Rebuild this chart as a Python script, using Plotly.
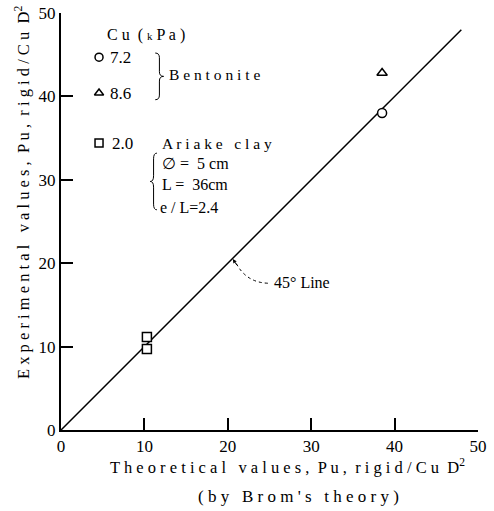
import plotly.graph_objects as go

# ---- data ----
bentonite_72_x = [38.5]
bentonite_72_y = [38.0]
bentonite_86_x = [38.5]
bentonite_86_y = [42.8]
ariake_x = [10.3, 10.3]
ariake_y = [11.15, 9.7]
line45 = [0, 48]
tick_vals = [0, 10, 20, 30, 40, 50]

TXT = "Liberation Serif"
NUM = "Liberation Serif"

fig = go.Figure()

mk = dict(color="white", size=9, line=dict(color="black", width=1.5))
fig.add_trace(go.Scatter(x=line45, y=line45, mode="lines",
                         line=dict(color="black", width=1.5), showlegend=False, hoverinfo="skip"))
fig.add_trace(go.Scatter(x=bentonite_72_x, y=bentonite_72_y, mode="markers",
                         marker=dict(symbol="circle", **mk), showlegend=False))
fig.add_trace(go.Scatter(x=bentonite_86_x, y=bentonite_86_y, mode="markers",
                         marker=dict(symbol="triangle-up", **mk), showlegend=False))
fig.add_trace(go.Scatter(x=ariake_x, y=ariake_y, mode="markers",
                         marker=dict(symbol="square", **mk), showlegend=False))

# legend symbols (in-plot key)
fig.add_trace(go.Scatter(x=[4.56, 4.56, 4.56], y=[44.7, 40.4, 34.4], mode="markers",
                         marker=dict(symbol=["circle", "triangle-up", "square"],
                                     color="white", size=8, line=dict(color="black", width=1.5)),
                         showlegend=False, hoverinfo="skip"))

def txt(x, y, s, size=16, font=TXT, xanchor="left", **kw):
    fig.add_annotation(x=x, y=y, xref="x", yref="y", text=s, showarrow=False,
                       xanchor=xanchor, yanchor="middle",
                       font=dict(family=font, size=size, color="black"), **kw)

txt(5.3, 47.4, "C u  ( <span style='font-size:11px'>k</span> P a )")
txt(5.6, 44.7, "7.2", size=17, font=NUM)
txt(5.6, 40.4, "8.6", size=17, font=NUM)
txt(12.7, 42.6, "B e n t o n i t e", size=15.5)
txt(5.9, 34.4, "2.0", size=17, font=NUM)
txt(11.9, 34.4, "A r i a k e   c l a y", size=15.5)
txt(11.9, 32.0, "∅ =  5 cm", size=16, font=NUM)
txt(11.9, 29.4, "L =  36cm", size=16, font=NUM)
txt(11.6, 26.7, "e / L=2.4", size=16, font=NUM)
txt(25.3, 17.7, "45° Line", size=16, font=NUM)

# braces
def brace(x0, x1, y0, y1, right=True):
    ym = (y0 + y1) / 2
    xa, xb = (x0, x1) if right else (x1, x0)
    xm = (xa + xb) / 2
    p = (f"M {xa},{y1} Q {xm},{y1} {xm},{y1 - (y1-ym)*0.2} L {xm},{ym + (y1-ym)*0.2} "
         f"Q {xm},{ym} {xb},{ym} Q {xm},{ym} {xm},{ym - (y1-ym)*0.2} "
         f"L {xm},{y0 + (y1-ym)*0.2} Q {xm},{y0} {xa},{y0}")
    fig.add_shape(type="path", path=p, xref="x", yref="y",
                  line=dict(color="black", width=1))

brace(11.3, 12.3, 39.6, 45.2, right=True)
brace(10.7, 11.5, 26.4, 33.2, right=False)

# dotted arrow to 45 deg line
fig.add_shape(type="path", path="M 24.8,17.6 Q 22.1,17.7 20.9,20.2", xref="x", yref="y",
              line=dict(color="black", width=1, dash="dot"))
fig.add_annotation(x=20.6, y=20.5, ax=21.2, ay=19.6, xref="x", yref="y", axref="x", ayref="y",
                   text="", showarrow=True, arrowhead=2, arrowsize=0.8, arrowwidth=1, arrowcolor="black")

# axis titles
fig.add_annotation(x=(287 - 61) / 417, y=-(467 - 430) / 417, xref="paper", yref="paper",
                   text="T h e o r e t i c a l   v a l u e s ,  P u ,  r i g i d / C u  D<sup>2</sup>",
                   showarrow=False, xanchor="center", yanchor="middle",
                   font=dict(family=TXT, size=16.5, color="black"))
fig.add_annotation(x=(298 - 61) / 417, y=-(497 - 430) / 417, xref="paper", yref="paper",
                   text="( b y   B r o m ' s   t h e o r y )", showarrow=False,
                   xanchor="center", yanchor="middle", font=dict(family=TXT, size=17, color="black"))
fig.add_annotation(x=-(61 - 22) / 417, y=(430 - 193) / 417, xref="paper", yref="paper",
                   text="E x p e r i m e n t a l   v a l u e s ,  P u ,  r i g i d / C u  D<sup>2</sup>",
                   showarrow=False, textangle=-90,
                   xanchor="center", yanchor="middle", font=dict(family=TXT, size=16.5, color="black"))

axis_common = dict(range=[0, 50], tickvals=tick_vals, showgrid=False, zeroline=False,
                   showline=True, linecolor="black", linewidth=2, ticks="inside", ticklen=12,
                   tickwidth=1.5, tickcolor="black", automargin=False,
                   tickfont=dict(family=NUM, size=17, color="black"))
fig.update_xaxes(**axis_common)
fig.update_yaxes(**axis_common)

fig.update_layout(width=494, height=511, margin=dict(l=61, r=16, t=13, b=81),
                  plot_bgcolor="white", paper_bgcolor="white", showlegend=False)

fig.write_html("out.html", config={"displayModeBar": False},
               post_script="document.body.style.margin='0';document.body.style.overflow='hidden';")
